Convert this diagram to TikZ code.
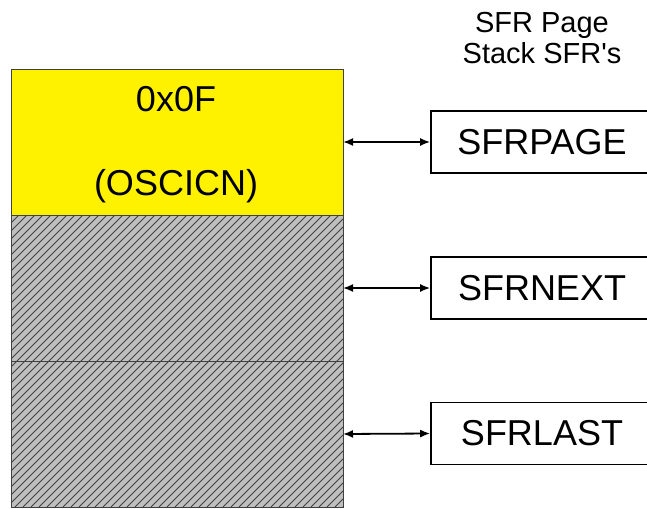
\documentclass[tikz,border=0pt]{standalone}
\usepackage{fontspec}
\setmainfont{Liberation Sans}
\usetikzlibrary{arrows.meta,positioning}

\begin{document}
\begin{tikzpicture}[x=1pt, y=-1pt,
  cell/.style={minimum width=332pt, minimum height=146pt, inner sep=0pt, outer sep=0pt},
  frame/.style={draw=black!75, line width=0.9pt},
  hatchline/.style={draw=black!75, line width=0.8pt},
  reg/.style={draw, line width=1.6pt, minimum width=222pt, minimum height=62pt, inner sep=0pt, font=\fontsize{36}{40}\selectfont},
  big/.style={font=\fontsize{36}{40}\selectfont, inner sep=0pt, anchor=base},
  arr/.style={{Latex[length=10pt,width=8pt]}-{Latex[length=10pt,width=8pt]}, line width=1.8pt}
]
\useasboundingbox (0,0) rectangle (647,508);
\clip (0,0) rectangle (647,508);

% stack of SFR pages
\node[cell, fill=yellow] (oscicn) at (177,142) {};
\node[cell, fill=black!25, below=0pt of oscicn] (next) {};
\node[cell, fill=black!25, below=0pt of next] (last) {};
\begin{scope}
  \clip (next.north west) rectangle (last.south east);
  \foreach \i in {-300,-292,...,350}
    \draw[hatchline] (\i,510) -- ++(310,-310);
\end{scope}
\draw[frame] (oscicn.north west) rectangle (oscicn.south east);
\draw[frame] (next.north west) rectangle (next.south east);
\draw[frame] (last.north west) rectangle (last.south east);
\node[big] (addr) at (176,111) {0x0F};
\node[big] (name) at (176,195) {(OSCICN)};

% stack registers
\node[font=\fontsize{29}{31}\selectfont, align=center, inner sep=0pt, anchor=north] (title) at (542,12) {SFR Page\\Stack SFR\textquotesingle s};
\node[reg] (page) at (542,142) {SFRPAGE};
\node[reg] (nxt) at (542,288) {SFRNEXT};
\node[reg] (lst) at (542,433.5) {SFRLAST};

\draw[arr] (oscicn.east) -- (page.west);
\draw[arr] (next.east) -- (nxt.west);
\draw[arr] (last.east) -- (lst.west);
\end{tikzpicture}
\end{document}
